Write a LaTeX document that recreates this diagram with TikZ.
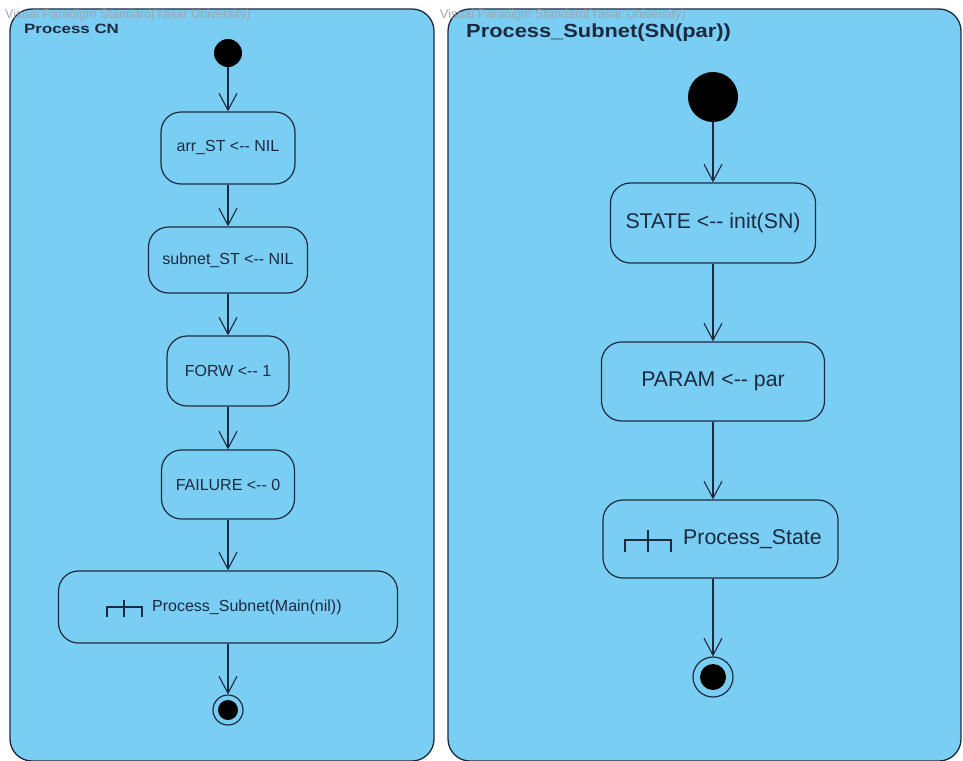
\documentclass[tikz,border=0pt]{standalone}
\usepackage{fontspec}
\setmainfont{Liberation Sans}
\usetikzlibrary{arrows.meta}
\definecolor{frameblue}{HTML}{7BCEF3}
\definecolor{ink}{HTML}{1C2A40}
\definecolor{markgray}{HTML}{9EA6AE}
\begin{document}
\begin{tikzpicture}[x=1pt,y=-1pt,
  frame/.style={draw=ink, line width=1.3pt, fill=frameblue, rounded corners=22pt},
  action/.style={rectangle, draw=ink, line width=1.2pt, fill=frameblue,
    rounded corners=20pt, inner sep=0pt, text=ink, align=center},
  smalltext/.style={font=\fontsize{16}{19}\selectfont},
  bigtext/.style={font=\fontsize{21.3}{25}\selectfont},
  flow/.style={draw=ink, line width=1.1pt,
    -{Straight Barb[length=17pt,width=18pt,line width=1.1pt]}},
  startnode/.style={circle, fill=black, inner sep=0pt},
  endring/.style={circle, draw=ink, line width=1.2pt, fill=frameblue, inner sep=0pt},
  enddot/.style={circle, fill=black, inner sep=0pt},
  rake/.style={draw=ink, line width=1.1pt},
  watermark/.style={anchor=west, text=markgray, inner sep=0pt,
    font=\fontsize{12.6}{14}\selectfont},
  title/.style={anchor=west, text=ink, inner sep=0pt}
]
\useasboundingbox (0,0) rectangle (963,760);
\clip (0,0) rectangle (963,760);

% activity frames
\path[frame] (10,9) rectangle (434,761);
\path[frame] (448,9) rectangle (961,761);

\node[watermark] (wm1) at (5,15) {Visual Paradigm Standard(Yasar University)};
\node[watermark] (wm2) at (440,15) {Visual Paradigm Standard(Yasar University)};

\node[title] (t1) at (24,29) {\scalebox{1.25}[1]{\fontsize{13.5}{16}\selectfont\bfseries Process CN}};
\node[title] (t2) at (466,33) {\scalebox{1.15}[1]{\fontsize{19}{22}\selectfont\bfseries Process\_Subnet(SN(par))}};

% ---- Process CN ----
\node[startnode, minimum size=28pt] (i1) at (228,53) {};
\node[action, smalltext, minimum width=134pt, minimum height=72pt] (a1) at (228,148) {arr\_ST <-{}- NIL};
\node[action, smalltext, minimum width=159pt, minimum height=66pt] (a2) at (228,260) {subnet\_ST <-{}- NIL};
\node[action, smalltext, minimum width=122pt, minimum height=70pt] (a3) at (228,371) {FORW <-{}- 1};
\node[action, smalltext, minimum width=133pt, minimum height=69pt] (a4) at (228,484.5) {FAILURE <-{}- 0};
\node[action, minimum width=339pt, minimum height=72pt] (a5) at (228,607) {};
\node[anchor=west, smalltext, text=ink, inner sep=0pt] (a5t) at (152,607) {Process\_Subnet(Main(nil))};
\draw[rake] (107,617) -- (107,607) -- (142,607) -- (142,617);
\draw[rake] (124,600) -- (124,617);
\node[endring, minimum size=30pt] (f1) at (228,710) {};
\node[enddot, minimum size=20pt] (f1d) at (f1) {};

\draw[flow] (i1) -- (a1);
\draw[flow] (a1) -- (a2);
\draw[flow] (a2) -- (a3);
\draw[flow] (a3) -- (a4);
\draw[flow] (a4) -- (a5);
\draw[flow] (a5) -- (f1);

% ---- Process_Subnet ----
\node[startnode, minimum size=50pt] (i2) at (713,97) {};
\node[action, bigtext, minimum width=205pt, minimum height=80pt] (b1) at (713,223) {STATE <-{}- init(SN)};
\node[action, bigtext, minimum width=223pt, minimum height=79pt] (b2) at (713,381.5) {PARAM <-{}- par};
\node[action, minimum width=235pt, minimum height=78pt] (b3) at (720.5,539) {};
\node[anchor=west, bigtext, text=ink, inner sep=0pt] (b3t) at (683,539) {Process\_State};
\draw[rake] (625,552) -- (625,540) -- (671,540) -- (671,552);
\draw[rake] (648,530) -- (648,552);
\node[endring, minimum size=40pt] (f2) at (713,677) {};
\node[enddot, minimum size=26pt] (f2d) at (f2) {};

\draw[flow] (i2) -- (b1);
\draw[flow] (b1) -- (b2);
\draw[flow] (b2.south) -- (b2.south |- b3.north);
\draw[flow] (b2.south |- b3.south) -- (f2);
\end{tikzpicture}
\end{document}
